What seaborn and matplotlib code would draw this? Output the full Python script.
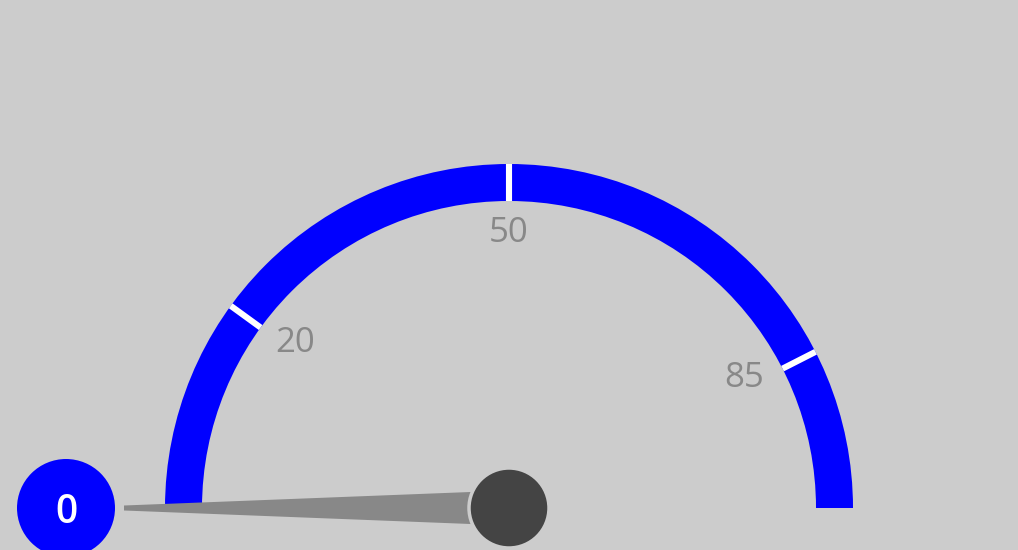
import numpy as np
import matplotlib
matplotlib.use("Agg")
import matplotlib.pyplot as plt
from matplotlib.patches import Wedge, Circle, Polygon
import seaborn as sns

# gauge data
gauge_min = 0
gauge_max = 100
gauge_value = 0
tick_values = [20, 50, 85]
tick_labels = ["20", "50", "85"]

BG = "#cccccc"
ARC = "#0000ff"
GREY = "#888888"
HUB = "#444444"

sns.set_theme(style="white", rc={"axes.facecolor": BG, "figure.facecolor": BG})
plt.rcParams["font.family"] = ["Open Sans", "DejaVu Sans"]


def value_angle(v):
    """Map a gauge value to an angle in degrees (180 = left, 0 = right)."""
    return 180.0 - (v - gauge_min) / (gauge_max - gauge_min) * 180.0


fig = plt.figure(figsize=(10.18, 5.5), dpi=100)
ax = fig.add_axes([0, 0, 1, 1])
ax.set_xlim(0, 1018)
ax.set_ylim(0, 550)
ax.set_axis_off()

cx, cy = 509, 42
r_out, r_in = 344, 307

# blue band
ax.add_patch(Wedge((cx, cy), r_out, value_angle(gauge_max), value_angle(gauge_min),
                   width=r_out - r_in, facecolor=ARC, edgecolor="none", zorder=1))

# ticks and their labels
for v, lab in zip(tick_values, tick_labels):
    a = np.radians(value_angle(v))
    ax.plot([cx + r_in * np.cos(a), cx + r_out * np.cos(a)],
            [cy + r_in * np.sin(a), cy + r_out * np.sin(a)],
            color="white", lw=4.4, solid_capstyle="butt", zorder=2)
    ax.text(cx + 264 * np.cos(a), cy + 266 * np.sin(a), lab, color=GREY,
            fontsize=25, ha="center", va="baseline", zorder=2)

# needle
a = np.radians(value_angle(gauge_value))
ux, uy = np.cos(a), np.sin(a)
px, py = -uy, ux
tip_r, tip_w, base_w = 385, 2.5, 17.5
needle = Polygon([(cx + px * base_w, cy + py * base_w),
                  (cx + ux * tip_r + px * tip_w, cy + uy * tip_r + py * tip_w),
                  (cx + ux * tip_r - px * tip_w, cy + uy * tip_r - py * tip_w),
                  (cx - px * base_w, cy - py * base_w)],
                 closed=True, facecolor=GREY, edgecolor="none", zorder=3)
ax.add_patch(needle)

# hub
ax.add_patch(Circle((cx, cy), 40, facecolor=HUB, edgecolor=BG, lw=2.5, zorder=4))

# value badge
bx, by = cx + 443 * ux, cy + 443 * uy
ax.add_patch(Circle((bx, by), 49, facecolor=ARC, edgecolor="none", zorder=5))
ax.text(bx, by, str(gauge_value), color="white", fontsize=28, fontweight="semibold",
        ha="center", va="center_baseline", zorder=6)

fig.savefig("out.png", dpi=100, facecolor=BG)
